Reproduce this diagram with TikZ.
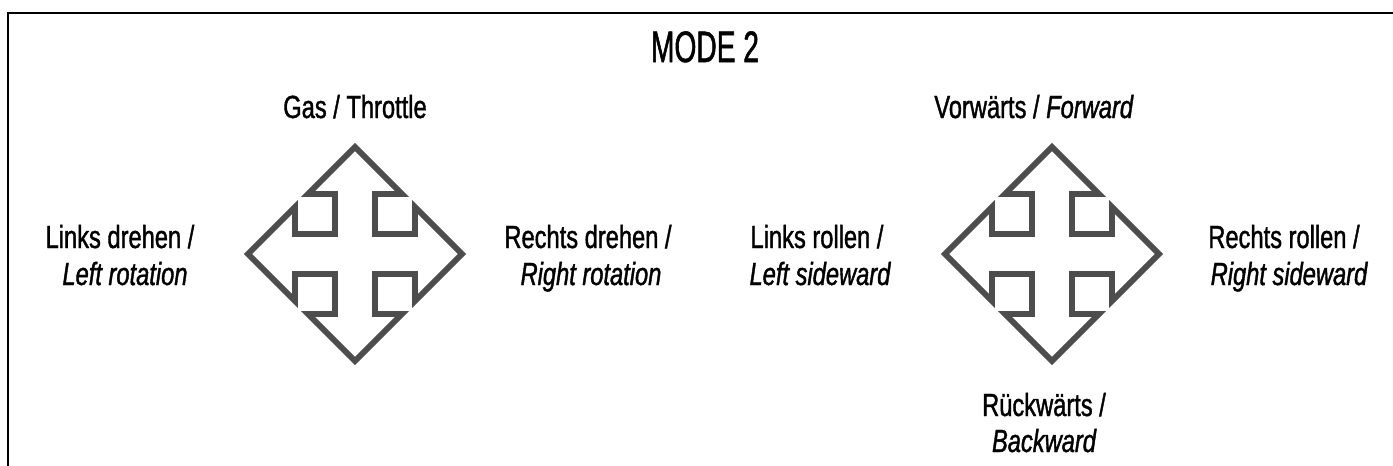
\documentclass[tikz,border=0pt]{standalone}
\usepackage{fontspec}
\setmainfont{Liberation Sans}[FakeStretch=0.74, FakeBold=1.2]
\newfontfamily\headfont{Liberation Sans}[FakeStretch=0.64, FakeBold=1.2]
\definecolor{icongray}{HTML}{4D4D4D}
\tikzset{
  frame/.style={draw=black, line width=2.2pt},
  icon/.style={draw=icongray, fill=white, line width=5.8pt, line join=miter},
  heading/.style={font=\headfont\fontsize{44}{50}\selectfont, anchor=base, inner sep=0pt},
  lbl/.style={font=\fontsize{32}{38}\selectfont, anchor=base, inner sep=0pt},
  lbli/.style={font=\fontsize{32}{38}\selectfont\itshape, anchor=base, inner sep=0pt},
  % four-way move arrow: tip 107, wing at 60 along / 47 across, shaft half width 20
  movecross/.pic={
    \draw[icon] (0,107) -- (47,60) -- (20,60) -- (20,20) -- (60,20) -- (60,47)
      -- (107,0) -- (60,-47) -- (60,-20) -- (20,-20) -- (20,-60) -- (47,-60)
      -- (0,-107) -- (-47,-60) -- (-20,-60) -- (-20,-20) -- (-60,-20) -- (-60,-47)
      -- (-107,0) -- (-60,47) -- (-60,20) -- (-20,20) -- (-20,60) -- (-47,60) -- cycle;
  }
}
\begin{document}
\begin{tikzpicture}[x=1pt, y=-1pt]
  \useasboundingbox (0,0) rectangle (1393,466);
  \fill[white] (0,0) rectangle (1393,466);

  % open frame: top and left edges only
  \draw[frame] (1393,13) -- (8,13) -- (8,466);

  \node[heading] (mode) at (705,62) {MODE 2};

  % left stick
  \pic (stickL) at (355,254) {movecross};
  \node[lbl]  (gas) at (355,118) {Gas / Throttle};
  \node[lbl]  (ldA) at (120,248) {Links drehen /};
  \node[lbli] (ldB) at (125,285) {Left rotation};
  \node[lbl]  (rdA) at (588,248) {Rechts drehen /};
  \node[lbli] (rdB) at (591,285) {Right rotation};

  % right stick
  \pic (stickR) at (1052,254) {movecross};
  \node[lbl]  (fwd) at (1034,118) {Vorwärts / \textit{Forward}};
  \node[lbl]  (lrA) at (817,248) {Links rollen /};
  \node[lbli] (lrB) at (820,285) {Left sideward};
  \node[lbl]  (rrA) at (1284,248) {Rechts rollen /};
  \node[lbli] (rrB) at (1289,285) {Right sideward};
  \node[lbl]  (bwA) at (1044,416) {Rückwärts /};
  \node[lbli] (bwB) at (1044,452) {Backward};
\end{tikzpicture}
\end{document}
